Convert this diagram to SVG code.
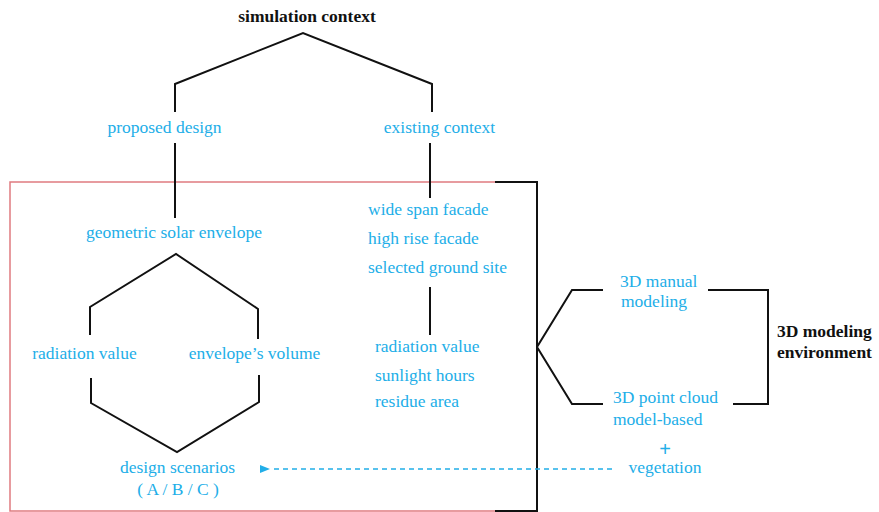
<svg xmlns="http://www.w3.org/2000/svg" width="879" height="512" viewBox="0 0 879 512">
<style>
text{font-family:'Liberation Serif','Times New Roman','DejaVu Serif',serif}
.t{font-size:17.5px;fill:#22aee8}
.b{font-size:17.5px;font-weight:bold;fill:#111}
.ln{fill:none;stroke:#111;stroke-width:2}
.red{fill:none;stroke:#e07b80;stroke-width:1.5}
.dash{fill:none;stroke:#22aee8;stroke-width:1.5;stroke-dasharray:5 4}
.c{text-anchor:middle}
</style>
<defs>
<marker id="ah" markerWidth="12" markerHeight="10" refX="1" refY="5" orient="auto-start-reverse" markerUnits="userSpaceOnUse">
<path d="M11,1 L1,5 L11,9 Z" fill="#22aee8"/>
</marker>
</defs>
<rect width="879" height="512" fill="#fff"/>
<g id="connectors">
<path class="red" d="M495,182 H10 V511 H495"/>
<path class="ln" d="M495,182 H537 V511 H495"/>
<path class="ln" d="M175,112 V84 L303,33 L432,84 V112"/>
<path class="ln" d="M175,143 V218"/>
<path class="ln" d="M430,143 V198"/>
<path class="ln" d="M430,287 V335"/>
<path class="ln" d="M90,335 V307 L176,254 L258,309 V339"/>
<path class="ln" d="M91,378 V403 L177,452 L259,402 V375"/>
<path class="ln" d="M603,290 H572 L537,347 L572,404 H603"/>
<path class="ln" d="M708,290 H768 V404 H733"/>
<path class="dash" d="M612,469 H270" marker-end="url(#ah)"/>
</g>
<g id="simulation-context"><text class="b c" x="307" y="22">simulation context</text></g>
<g id="proposed-design"><text class="t c" x="164.5" y="133">proposed design</text></g>
<g id="existing-context"><text class="t c" x="439.5" y="133">existing context</text></g>
<g id="geometric-solar-envelope"><text class="t c" x="174" y="238">geometric solar envelope</text></g>
<g id="radiation-value-left"><text class="t c" x="84.5" y="359">radiation value</text></g>
<g id="envelope-volume"><text class="t c" x="254.5" y="359">envelope’s volume</text></g>
<g id="design-scenarios"><text class="t c" x="177.5" y="473">design scenarios</text><text class="t c" x="178" y="495">( A / B / C )</text></g>
<g id="existing-targets">
<text class="t" x="368" y="215">wide span facade</text>
<text class="t" x="368" y="244">high rise facade</text>
<text class="t" x="368" y="273">selected ground site</text>
</g>
<g id="existing-results">
<text class="t" x="375" y="352">radiation value</text>
<text class="t" x="375" y="381">sunlight hours</text>
<text class="t" x="375" y="407">residue area</text>
</g>
<g id="manual-modeling"><text class="t" x="620" y="287">3D manual</text><text class="t" x="621" y="307">modeling</text></g>
<g id="point-cloud"><text class="t" x="613" y="403">3D point cloud</text><text class="t" x="613" y="425">model-based</text></g>
<g id="vegetation"><text class="t c" x="665" y="456" style="font-family:'Liberation Sans',Arial,sans-serif;font-size:20px">+</text><text class="t c" x="665" y="473">vegetation</text></g>
<g id="modeling-environment"><text class="b" x="777" y="337">3D modeling</text><text class="b" x="777" y="358">environment</text></g>
</svg>
